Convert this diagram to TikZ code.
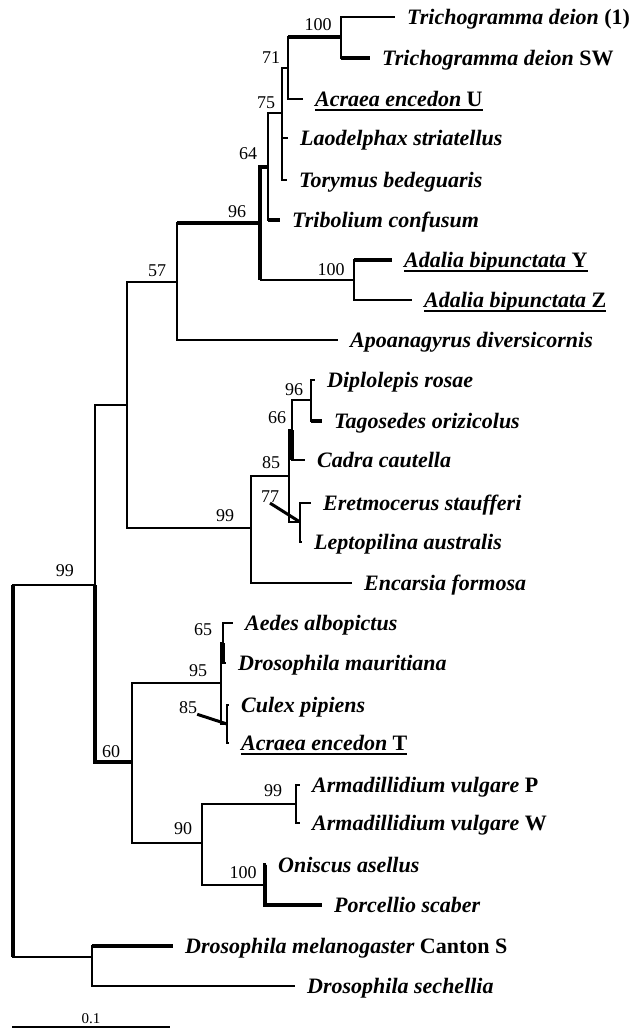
\documentclass[tikz,border=0pt]{standalone}
\usepackage{fontspec}
\setmainfont{Liberation Serif}
\usepackage{tikz}

\newcommand{\ulname}[1]{\setbox0=\hbox{#1}\rlap{\rule[-5pt]{\wd0}{1.8pt}}\box0}

\begin{document}
\begin{tikzpicture}[x=1pt,y=-1pt,
  br/.style={line width=1.5pt},
  bb/.style={line width=3.6pt},
  taxon/.style={anchor=base west,inner sep=0pt,xshift=12pt,yshift=-7pt,
    font=\fontsize{22}{26}\selectfont\bfseries\itshape},
  boot/.style={inner sep=0pt,font=\fontsize{18}{20}\selectfont}]
  \useasboundingbox (0,0) rectangle (637,1029);

  % inner nodes
  \coordinate (root) at (13,771);
  \coordinate (n99) at (95,585);
  \coordinate (nX) at (127,405);
  \coordinate (n57) at (177,282);
  \coordinate (n96) at (260,223);
  \coordinate (n64) at (268,167);
  \coordinate (n75) at (282,113);
  \coordinate (nLT) at (282,159);
  \coordinate (n71) at (288,68);
  \coordinate (n100a) at (341,37);
  \coordinate (nAdal) at (354,280);
  \coordinate (nDip) at (251,528);
  \coordinate (n85b) at (289,476);
  \coordinate (n66) at (292,430);
  \coordinate (n96b) at (311,400);
  \coordinate (n77) at (300,522);
  \coordinate (n60) at (132,762);
  \coordinate (n95) at (221,683);
  \coordinate (n65) at (223,643);
  \coordinate (n85c) at (227,724);
  \coordinate (n90) at (202,843);
  \coordinate (n99c) at (296,804);
  \coordinate (n100c) at (265,885);
  \coordinate (nDro) at (92,957);

  % leaf ends
  \coordinate (tdA) at (395,17);
  \coordinate (tdB) at (370,58);
  \coordinate (acrU) at (303,99);
  \coordinate (laod) at (288,138);
  \coordinate (tory) at (287,180);
  \coordinate (trib) at (280,220);
  \coordinate (adaY) at (392,260);
  \coordinate (adaZ) at (412,300);
  \coordinate (apoa) at (338,340);
  \coordinate (dipl) at (315,380);
  \coordinate (tago) at (322,421);
  \coordinate (cadr) at (305,460);
  \coordinate (eret) at (311,503);
  \coordinate (lept) at (302,542);
  \coordinate (enca) at (352,583);
  \coordinate (aede) at (233,623);
  \coordinate (dmau) at (226,663);
  \coordinate (cule) at (229,705);
  \coordinate (acrT) at (229,743);
  \coordinate (armP) at (300,785);
  \coordinate (armW) at (300,823);
  \coordinate (onis) at (266,865);
  \coordinate (porc) at (322,905);
  \coordinate (dmel) at (173,946);
  \coordinate (dsec) at (295,986);

  % root and the two deep splits
  \draw[br] (root) |- (n99);
  \draw[br] (root) |- (nDro);
  \draw[bb] (root |- n99) -- (root |- nDro);
  \draw[br] (n99) |- (nX);
  \draw[bb] (n99) |- (n60);
  \draw[br] (nX) |- (n57);
  \draw[br] (nX) |- (nDip);

  % upper group
  \draw[br] (n57) |- (n96);
  \draw[bb] (n57 |- n96) -- (n96);
  \draw[br] (n57) |- (apoa);
  \draw[bb] (n96) |- (n64);
  \draw[bb] (n96) -- (n96 |- nAdal);
  \draw[br] (n96 |- nAdal) -- (nAdal);
  \draw[br] (n64) |- (n75);
  \draw[br] (n64) |- (trib);
  \draw[bb] (n64 |- trib) -- (trib);
  \draw[br] (n75) |- (n71);
  \draw[br] (n75) -- (nLT);
  \draw[br] (nLT) |- (laod);
  \draw[br] (nLT) |- (tory);
  \draw[br] (n71) |- (n100a);
  \draw[bb] (n71 |- n100a) -- (n100a);
  \draw[br] (n71) |- (acrU);
  \draw[br] (n100a) |- (tdA);
  \draw[br] (n100a) |- (tdB);
  \draw[bb] (n100a |- tdB) -- (tdB);
  \draw[br] (nAdal) |- (adaY);
  \draw[bb] (nAdal |- adaY) -- (adaY);
  \draw[br] (nAdal) |- (adaZ);

  % wasps group
  \draw[br] (nDip) |- (n85b);
  \draw[br] (nDip) |- (enca);
  \draw[br] (n85b) |- (n66);
  \draw[br] (n85b) |- (n77);
  \draw[br] (n66) |- (n96b);
  \draw[br] (n66) |- (cadr);
  \draw[bb] (n66) -- (n66 |- cadr);
  \draw[br] (n96b) |- (dipl);
  \draw[br] (n96b) |- (tago);
  \draw[bb] (n96b |- tago) -- (tago);
  \draw[br] (n77) |- (eret);
  \draw[br] (n77) |- (lept);

  % lower group
  \draw[br] (n60) |- (n95);
  \draw[br] (n60) |- (n90);
  \draw[br] (n95) |- (n65);
  \draw[br] (n95) |- (n85c);
  \draw[br] (n65) |- (aede);
  \draw[br] (n65) |- (dmau);
  \draw[bb] (n65) -- (n65 |- dmau);
  \draw[br] (n85c) |- (cule);
  \draw[br] (n85c) |- (acrT);
  \draw[br] (n90) |- (n99c);
  \draw[br] (n90) |- (n100c);
  \draw[br] (n99c) |- (armP);
  \draw[br] (n99c) |- (armW);
  \draw[bb] (n100c) |- (onis);
  \draw[bb] (n100c) |- (porc);
  \draw[br] (nDro) |- (dmel);
  \draw[bb] (nDro |- dmel) -- (dmel);
  \draw[br] (nDro) |- (dsec);

  % taxa
  \node[taxon] (lTdA) at (tdA) {Trichogramma deion {\upshape (1)}};
  \node[taxon] (lTdB) at (tdB) {Trichogramma deion {\upshape SW}};
  \node[taxon] (lAcrU) at (acrU) {\ulname{Acraea encedon {\upshape U}}};
  \node[taxon] (lLaod) at (laod) {Laodelphax striatellus};
  \node[taxon] (lTory) at (tory) {Torymus bedeguaris};
  \node[taxon] (lTrib) at (trib) {Tribolium confusum};
  \node[taxon] (lAdaY) at (adaY) {\ulname{Adalia bipunctata {\upshape Y}}};
  \node[taxon] (lAdaZ) at (adaZ) {\ulname{Adalia bipunctata {\upshape Z}}};
  \node[taxon] (lApoa) at (apoa) {Apoanagyrus diversicornis};
  \node[taxon] (lDipl) at (dipl) {Diplolepis rosae};
  \node[taxon] (lTago) at (tago) {Tagosedes orizicolus};
  \node[taxon] (lCadr) at (cadr) {Cadra cautella};
  \node[taxon] (lEret) at (eret) {Eretmocerus staufferi};
  \node[taxon] (lLept) at (lept) {Leptopilina australis};
  \node[taxon] (lEnca) at (enca) {Encarsia formosa};
  \node[taxon] (lAede) at (aede) {Aedes albopictus};
  \node[taxon] (lDmau) at (dmau) {Drosophila mauritiana};
  \node[taxon] (lCule) at (cule) {Culex pipiens};
  \node[taxon] (lAcrT) at (acrT) {\ulname{Acraea encedon {\upshape T}}};
  \node[taxon] (lArmP) at (armP) {Armadillidium vulgare {\upshape P}};
  \node[taxon] (lArmW) at (armW) {Armadillidium vulgare {\upshape W}};
  \node[taxon] (lOnis) at (onis) {Oniscus asellus};
  \node[taxon] (lPorc) at (porc) {Porcellio scaber};
  \node[taxon] (lDmel) at (dmel) {Drosophila melanogaster {\upshape Canton S}};
  \node[taxon] (lDsec) at (dsec) {Drosophila sechellia};

  % bootstrap values
  \node[boot] (b100a) at (318,25) {100};
  \node[boot] (b71) at (271,58) {71};
  \node[boot] (b75) at (266,103) {75};
  \node[boot] (b64) at (248,154) {64};
  \node[boot] (b96) at (237,212) {96};
  \node[boot] (b100b) at (331,270) {100};
  \node[boot] (b57) at (157,271) {57};
  \node[boot] (b96b) at (294,390) {96};
  \node[boot] (b66) at (277,418) {66};
  \node[boot] (b85b) at (271,463) {85};
  \node[boot] (b77) at (270,497) {77};
  \node[boot] (b99b) at (225,516) {99};
  \node[boot] (b99a) at (65,571) {99};
  \node[boot] (b60) at (111,752) {60};
  \node[boot] (b95) at (198,671) {95};
  \node[boot] (b65) at (203,630) {65};
  \node[boot] (b85c) at (188,708) {85};
  \node[boot] (b90) at (183,829) {90};
  \node[boot] (b99c) at (273,791) {99};
  \node[boot] (b100c) at (243,873) {100};
  \draw[line width=3pt] (b77.south) -- (n77);
  \draw[line width=3pt] (b85c.south east) -- (n85c);

  % scale bar
  \coordinate (sbL) at (12,1027);
  \coordinate (sbR) at (170,1027);
  \draw[br] (sbL) -- node[above=3pt,inner sep=0pt,font=\fontsize{15}{17}\selectfont] (sbT) {0.1} (sbR);
\end{tikzpicture}
\end{document}
